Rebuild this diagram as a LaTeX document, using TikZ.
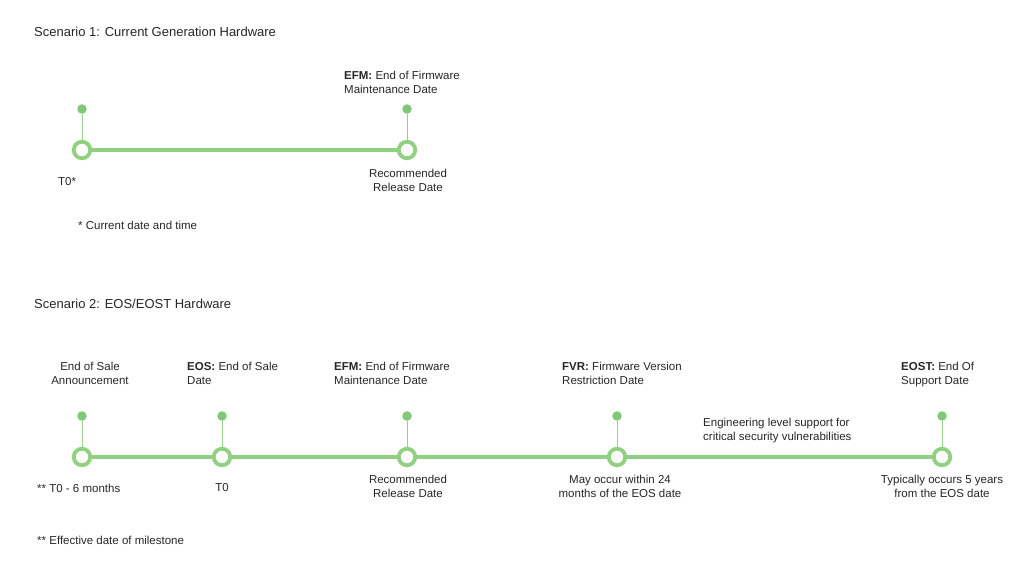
\documentclass[tikz,border=0pt]{standalone}
\usepackage{fontspec}
\setmainfont{Liberation Sans}
\usetikzlibrary{positioning}
\definecolor{lifegreen}{HTML}{8FD181}
\definecolor{dotgreen}{HTML}{80C878}
\definecolor{stemgreen}{HTML}{9ACF8E}
\definecolor{txtgray}{HTML}{262626}

\begin{document}
\begin{tikzpicture}[x=1pt,y=-1pt,
	milestone/.style={circle,draw=lifegreen,line width=3.8pt,fill=white,minimum size=16.5pt,inner sep=0pt},
	marker/.style={circle,fill=dotgreen,minimum size=9.5pt,inner sep=0pt},
	timeline/.style={draw=lifegreen,line width=4.6pt},
	stem/.style={draw=stemgreen,line width=0.9pt},
	label/.style={text=txtgray,font=\fontsize{11.5}{14}\selectfont,inner sep=0pt,align=left},
	caption/.style={label,align=center},
	heading/.style={label,font=\fontsize{13}{16}\selectfont}]
	\useasboundingbox (0,0) rectangle (1024,564);
	% Scenario 1
	\node[heading,anchor=west] (title1) at (34,32) {Scenario 1: Current Generation Hardware};
	\node[marker] (d1a) at (82,109) {};
	\node[marker] (d1b) at (407,109) {};
	\node[milestone] (t1a) at (82,150) {};
	\node[milestone] (t1b) at (407,150) {};
	\draw[timeline] (t1a) -- (t1b);
	\draw[stem] (d1a) -- (t1a);
	\draw[stem] (d1b) -- (t1b);
	\node[label,anchor=north west] (efm1) at (344,71) {\textbf{EFM:} End of Firmware\\Maintenance Date};
	\node[label,anchor=west] (tzero1) at (58,182) {T0*};
	\node[caption,anchor=north] (rec1) at (408,169) {Recommended\\Release Date};
	\node[label,anchor=west] (note1) at (78,225) {* Current date and time};
	% Scenario 2
	\node[heading,anchor=west] (title2) at (34,304) {Scenario 2: EOS/EOST Hardware};
	\foreach \name/\x in {a/82,b/222,c/407,d/617,e/942}{
		\node[marker] (d2\name) at (\x,416) {};
		\node[milestone] (t2\name) at (\x,457) {};
		\draw[stem] (d2\name) -- (t2\name);
	}
	\draw[timeline] (t2a) -- (t2b) (t2b) -- (t2c) (t2c) -- (t2d) (t2d) -- (t2e);
	\node[caption,anchor=north] (eosa) at (90,362) {End of Sale\\Announcement};
	\node[label,anchor=north west] (eos) at (187,362) {\textbf{EOS:} End of Sale\\Date};
	\node[label,anchor=north west] (efm2) at (334,362) {\textbf{EFM:} End of Firmware\\Maintenance Date};
	\node[label,anchor=north west] (fvr) at (562,362) {\textbf{FVR:} Firmware Version\\Restriction Date};
	\node[label,anchor=north west] (eost) at (901,362) {\textbf{EOST:} End Of\\Support Date};
	\node[label,anchor=north west] (eng) at (703,418) {Engineering level support for\\critical security vulnerabilities};
	\node[label,anchor=west] (tsix) at (37,488) {** T0 - 6 months};
	\node[caption] (tzero2) at (222,488) {T0};
	\node[caption,anchor=north] (rec2) at (408,475) {Recommended\\Release Date};
	\node[caption,anchor=north] (may) at (620,475) {May occur within 24\\months of the EOS date};
	\node[caption,anchor=north] (typ) at (942,475) {Typically occurs 5 years\\from the EOS date};
	\node[label,anchor=west] (note2) at (37,540) {** Effective date of milestone};
\end{tikzpicture}
\end{document}
